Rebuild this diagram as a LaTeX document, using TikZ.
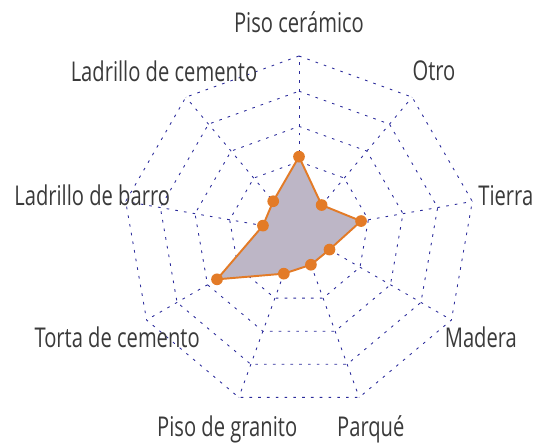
\documentclass[tikz,border=0pt]{standalone}
\usepackage{fontspec}
\setmainfont{Open Sans}[FakeStretch=0.74]
\definecolor{gridblue}{HTML}{2B2B9B}
\definecolor{dataline}{HTML}{E37B27}
\definecolor{datafill}{HTML}{BDB6C6}
\definecolor{labelgray}{HTML}{3A3A3A}
\tikzset{
    gridline/.style={gridblue, line width=0.5pt, dash pattern=on 1.5pt off 3.5pt},
    axislabel/.style={text=labelgray, font=\fontsize{15.5}{18}\selectfont, inner sep=0pt},
    datapoint/.style={circle, fill=dataline, inner sep=0pt, minimum size=0.234cm},
    dataarea/.style={draw=dataline, fill=datafill, line width=1.1pt, line join=round}
}

\begin{document}
\begin{tikzpicture}
    \useasboundingbox (0,0) rectangle (10.7,8.92);
    \begin{scope}[shift={(5.98,4.28)}]
    \coordinate (c) at (0,0);
    % rings and spokes
    \foreach \r in {1,...,5}{
        \draw[gridline] (90:\r*0.704) \foreach \a in {50,10,...,-230}{ -- (\a:\r*0.704)} -- cycle;
    }
    \foreach \a [count=\i] in {90,50,...,-230}{
        \coordinate (v\i) at (\a:3.52);
        \draw[gridline] (c) -- (v\i);
    }
    % labels
    \foreach \a/\txt [count=\i] in {90/Piso cerámico, 50/Otro, 10/Tierra, -30/Madera, -70/Parqué, -110/Piso de granito, -150/Torta de cemento, -190/Ladrillo de barro, -230/Ladrillo de cemento}{
        \node[axislabel] (l\i) at (\a:4.2) {\txt};
    }
    % data
    \foreach \a/\v [count=\i] in {90/2.14, 50/1.0, 10/1.79, -30/1.0, -70/0.99, -110/1.26, -150/2.69, -190/1.04, -230/1.14}{
        \coordinate (p\i) at (\a:\v*0.704);
    }
    \draw[dataarea] (p1) -- (p2) -- (p3) -- (p4) -- (p5) -- (p6) -- (p7) -- (p8) -- (p9) -- cycle;
    \foreach \i in {1,...,9}{
        \node[datapoint] (d\i) at (p\i) {};
    }
    \end{scope}
\end{tikzpicture}
\end{document}
